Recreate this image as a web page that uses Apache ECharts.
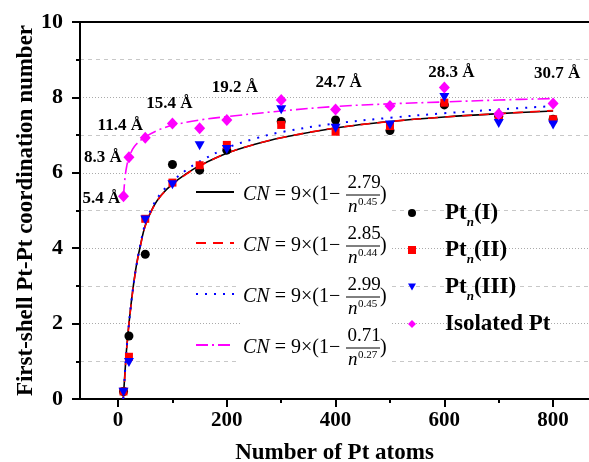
<!DOCTYPE html>
<html>
<head>
<meta charset="utf-8">
<script src="https://cdn.jsdelivr.net/npm/echarts@6/dist/echarts.min.js"></script>
<style>html,body{margin:0;padding:0;background:#fff}#c{width:589px;height:462px}</style>
</head>
<body>
<div id="c"></div>
<script>
// ---- data ----
const atomN = [10, 20, 50, 100, 150, 200, 300, 400, 500, 600, 700, 800];
const cnPtI   = [0.2, 1.67, 3.84, 6.22, 6.07, 6.6, 7.36, 7.4, 7.12, 7.8, 7.5, 7.42];
const cnPtII  = [0.2, 1.12, 4.78, 5.74, 6.2, 6.74, 7.27, 7.09, 7.24, 7.86, 7.49, 7.42];
const cnPtIII = [0.18, 0.97, 4.75, 5.68, 6.72, 6.62, 7.67, 7.18, 7.27, 8.0, 7.31, 7.27];
const cnIso   = [5.38, 6.41, 6.93, 7.31, 7.18, 7.4, 7.93, 7.68, 7.77, 8.26, 7.56, 7.84];

// fitted curves, values
const fitN    = [9.5, 12, 15, 18, 20, 25, 30, 35, 40, 50, 65, 80, 100, 125, 150, 200, 250, 300, 400, 500, 600, 700, 800];
const fitI    = [0, 0.55, 1.2, 1.7, 2.0, 2.65, 3.2, 3.65, 4.0, 4.6, 5.1, 5.42, 5.7, 5.97, 6.19, 6.52, 6.75, 6.93, 7.19, 7.36, 7.48, 7.57, 7.64];
const fitII   = [0, 0.5, 1.17, 1.68, 1.98, 2.63, 3.18, 3.63, 3.99, 4.59, 5.09, 5.41, 5.69, 5.96, 6.18, 6.52, 6.75, 6.93, 7.19, 7.36, 7.48, 7.57, 7.65];
const fitIII  = [0, 0.55, 1.2, 1.7, 2.0, 2.65, 3.2, 3.65, 4.02, 4.65, 5.15, 5.48, 5.78, 6.07, 6.3, 6.66, 6.9, 7.08, 7.31, 7.46, 7.58, 7.68, 7.77];
const fitNIso = [10, 13, 16, 20, 30, 50, 75, 100, 150, 200, 300, 400, 500, 600, 700, 800];
const fitIso  = [5.38, 5.9, 6.18, 6.4, 6.7, 6.95, 7.14, 7.26, 7.4, 7.49, 7.64, 7.76, 7.83, 7.88, 7.93, 7.97];

// fit formulas (text)
const fitCoef = ['2.79', '2.85', '2.99', '0.71'];
const fitExp  = ['0.45', '0.44', '0.45', '0.27'];

// size annotations on Isolated Pt points
const annotN    = [10, 20, 50, 100, 200, 400, 600, 800];
const annotText = ['5.4 Å', '8.3 Å', '11.4 Å', '15.4 Å', '19.2 Å', '24.7 Å', '28.3 Å', '30.7 Å'];

const xTickMajor = [0, 200, 400, 600, 800];
const xTickMinor = [100, 300, 500, 700];

// ---- layout / style ----
const FF = '"Liberation Serif", "Times New Roman", serif';
const annotOffsets = [[-22, 2], [-26, 0], [-25, -12], [-3, -20], [8, -32], [3, -27], [7, -15], [4, -30]];

const pairs = (xs, ys) => xs.map((x, i) => [x, ys[i]]);

const lineNames = ['fitI', 'fitII', 'fitIII', 'fitIso'];
const ptNames = ['Pt_n(I)', 'Pt_n(II)', 'Pt_n(III)', 'Isolated Pt'];

function lineSeries(name, xs, ys, color, type, width) {
  return {
    name, type: 'line', data: pairs(xs, ys), symbol: 'none', smooth: 0.35,
    lineStyle: { color, width, type }, itemStyle: { color }, z: 2, silent: true
  };
}
function ptSeries(name, ys, color, symbol, size) {
  return {
    name, type: 'scatter', data: pairs(atomN, ys), symbol, symbolSize: size,
    itemStyle: { color, opacity: 1 }, z: 3
  };
}

const isoData = atomN.map((n, i) => {
  const item = { value: [n, cnIso[i]] };
  const k = annotN.indexOf(n);
  if (k >= 0) {
    item.label = { show: true, formatter: annotText[k], offset: annotOffsets[k] };
  }
  return item;
});

const series = [
  lineSeries('fitI', fitN, fitI, '#000000', 'solid', 1.6),
  lineSeries('fitII', fitN, fitII, '#ff0000', [10, 7], 1.6),
  lineSeries('fitIII', fitN, fitIII, '#0000ff', [2, 7], 2),
  lineSeries('fitIso', fitNIso, fitIso, '#ff00ff', [12, 4, 2, 4], 1.6),
  ptSeries('Pt_n(I)', cnPtI, '#000000', 'circle', 9),
  ptSeries('Pt_n(II)', cnPtII, '#ff0000', 'rect', 8),
  ptSeries('Pt_n(III)', cnPtIII, '#0000ff', 'path://M0,0L10,0L5,9Z', [10, 9]),
  {
    name: 'Isolated Pt', type: 'scatter', data: isoData, symbol: 'diamond', symbolSize: [11, 12],
    itemStyle: { color: '#ff00ff', opacity: 1 }, z: 4,
    label: { show: false, position: 'inside', fontFamily: FF, fontWeight: 'bold', fontSize: 17, color: '#000',
             align: 'center', verticalAlign: 'middle' }
  }
];

// formula graphics
const graphics = [{ type: 'rect', shape: { x: 240, y: 165, width: 152, height: 213 }, style: { fill: '#ffffff' }, z: 1, silent: true }];
for (let i = 0; i < 4; i++) {
  const yc = 195 + 51 * i;
  graphics.push({
    type: 'text', x: 243, y: yc, z: 2, silent: true,
    style: {
      text: '{i|CN}{r| = 9×(1−}', align: 'left', verticalAlign: 'middle', textAlign: 'left', textVerticalAlign: 'middle',
      fill: '#000',
      rich: {
        i: { fontFamily: FF, fontStyle: 'italic', fontSize: 20, fill: '#000' },
        r: { fontFamily: FF, fontSize: 20, fill: '#000' }
      }
    }
  });
  graphics.push({ type: 'line', z: 2, silent: true, shape: { x1: 346, y1: yc, x2: 380, y2: yc }, style: { stroke: '#000', lineWidth: 1 } });
  graphics.push({
    type: 'text', x: 364, y: yc - 12, z: 2, silent: true,
    style: { text: fitCoef[i], fontFamily: FF, fontSize: 19, fill: '#000', align: 'center', verticalAlign: 'middle', textAlign: 'center', textVerticalAlign: 'middle' }
  });
  graphics.push({
    type: 'text', x: 348, y: yc + 12, z: 2, silent: true,
    style: { text: 'n', fontFamily: FF, fontStyle: 'italic', fontSize: 19, fill: '#000', align: 'left', verticalAlign: 'middle', textAlign: 'left', textVerticalAlign: 'middle' }
  });
  graphics.push({
    type: 'text', x: 358, y: yc + 7, z: 2, silent: true,
    style: { text: fitExp[i], fontFamily: FF, fontSize: 11, fill: '#000', align: 'left', verticalAlign: 'middle', textAlign: 'left', textVerticalAlign: 'middle' }
  });
  graphics.push({
    type: 'text', x: 380, y: yc, z: 2, silent: true,
    style: { text: ')', fontFamily: FF, fontSize: 20, fill: '#000', align: 'left', verticalAlign: 'middle', textAlign: 'left', textVerticalAlign: 'middle' }
  });
}

const ptLegendText = {
  'Pt_n(I)': '{a0|Pt}{sub|n}{a|(I)}',
  'Pt_n(II)': '{a0|Pt}{sub|n}{a|(II)}',
  'Pt_n(III)': '{a0|Pt}{sub|n}{a|(III)}',
  'Isolated Pt': '{a0|Isolated Pt}'
};

const xMin = -70, xMax = 866;
const axisTitle = { fontFamily: FF, fontWeight: 'bold', fontSize: 23, color: '#000' };

const option = {
  animation: false,
  backgroundColor: '#ffffff',
  grid: { left: 80, right: 0, top: 22, bottom: 63, containLabel: false, outerBoundsMode: 'none' },
  xAxis: [
    {
      type: 'value', min: xMin, max: xMax, position: 'bottom',
      name: 'Number of Pt atoms', nameLocation: 'middle', nameGap: 43, nameTextStyle: axisTitle, nameMoveOverlap: false,
      axisLine: { show: true, onZero: false, lineStyle: { color: '#000', width: 2 } },
      axisTick: { show: true, length: 8, lineStyle: { color: '#000', width: 2 }, customValues: xTickMajor },
      axisLabel: { show: true, margin: 11, fontFamily: FF, fontWeight: 'bold', fontSize: 21, color: '#000', customValues: xTickMajor },
      splitLine: { show: false }
    },
    {
      type: 'value', min: xMin, max: xMax, position: 'bottom',
      axisLine: { show: false, onZero: false },
      axisTick: { show: true, length: 4, lineStyle: { color: '#000', width: 2 }, customValues: xTickMinor },
      axisLabel: { show: false, customValues: xTickMinor },
      splitLine: { show: false }
    },
    {
      type: 'value', min: xMin, max: xMax, position: 'top',
      axisLine: { show: true, onZero: false, lineStyle: { color: '#000', width: 2 } },
      axisTick: { show: false }, axisLabel: { show: false }, splitLine: { show: false }
    }
  ],
  yAxis: {
    type: 'value', min: 0, max: 10, interval: 2,
    name: 'First-shell Pt-Pt coordination number', nameLocation: 'middle', nameGap: 42, nameTextStyle: axisTitle, nameMoveOverlap: false,
    axisLine: { show: true, onZero: false, lineStyle: { color: '#000', width: 2 } },
    axisTick: { show: true, length: 8, lineStyle: { color: '#000', width: 2 } },
    minorTick: { show: true, splitNumber: 2, length: 4, lineStyle: { color: '#000', width: 2 } },
    axisLabel: { margin: 17, fontFamily: FF, fontWeight: 'bold', fontSize: 22, color: '#000' },
    splitLine: { show: true, lineStyle: { color: '#aaaaaa', width: 1, type: [1, 2] } },
    minorSplitLine: { show: true, lineStyle: { color: '#c8c8c8', width: 1, type: [4, 4] } }
  },
  legend: [
    {
      data: lineNames, orient: 'vertical', left: 195, top: 185, itemWidth: 38, itemHeight: 14, itemGap: 37,
      padding: 0, selectedMode: false, formatter: () => ' ', textStyle: { fontSize: 12, lineHeight: 14 },
      itemStyle: { opacity: 0, color: 'rgba(0,0,0,0)', borderWidth: 0 }
    },
    {
      data: ptNames, orient: 'vertical', left: 408, top: 201.5, itemWidth: 8, itemHeight: 8, itemGap: 9.5,
      padding: 0, selectedMode: false,
      formatter: (name) => ptLegendText[name],
      textStyle: {
        rich: {
          a0: { fontFamily: FF, fontWeight: 'bold', fontSize: 23, lineHeight: 32, color: '#000', padding: [0, 0, 0, 24] },
          a: { fontFamily: FF, fontWeight: 'bold', fontSize: 23, lineHeight: 32, color: '#000' },
          sub: { fontFamily: FF, fontWeight: 'bold', fontStyle: 'italic', fontSize: 13, lineHeight: 13, color: '#000', verticalAlign: 'bottom' }
        }
      }
    }
  ],
  graphic: graphics,
  series
};

const chart = echarts.init(document.getElementById('c'), null, { renderer: 'canvas' });
chart.setOption(option);
</script>
</body>
</html>
